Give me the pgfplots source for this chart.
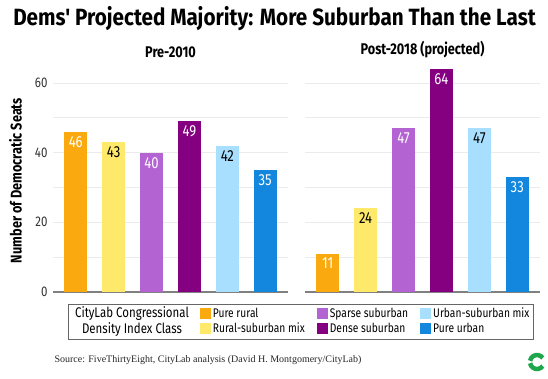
\documentclass[border=0pt]{standalone}
\usepackage{fontspec}
\setmainfont{Fira Sans}[FakeStretch=0.82]
\newfontfamily\titlefont{Fira Sans}[FakeStretch=0.88]
\newfontfamily\srcfont{Liberation Serif}
\usepackage{pgfplots}
\pgfplotsset{compat=1.18}
\definecolor{cRural}{HTML}{FAAA0E}
\definecolor{cRurSub}{HTML}{FEE96B}
\definecolor{cSparse}{HTML}{B464D2}
\definecolor{cDense}{HTML}{850080}
\definecolor{cUrbSub}{HTML}{A8DEFE}
\definecolor{cUrban}{HTML}{1287DD}
\definecolor{cLogo}{HTML}{1EA64B}
\pgfplotsset{
  panel/.style={
    scale only axis, width=235pt, height=223pt,
    anchor=south west,
    ymin=0, ymax=64, xmin=-0.6, xmax=5.6,
    axis line style={draw=none},
    xtick=\empty,
    ytick={20,40,60}, minor ytick={10,30,50},
    extra y ticks={0},
    extra y tick style={grid style={color=black!50, line width=1.6pt}},
    ymajorgrids, yminorgrids,
    grid style={color=black!8, line width=0.8pt},
    major tick length=0pt, minor tick length=0pt,
    /pgf/number format/assume math mode=true,
    yticklabel style={font=\fontsize{14}{14}\selectfont, text=black!80, xshift=-2pt},
    title style={font=\bfseries\fontsize{15.5}{15.5}\selectfont, yshift=2pt},
    ybar, bar width=23pt, bar shift=0pt,
    nodes near coords,
    nodes near coords style={anchor=north, font=\fontsize{16}{16}\selectfont, yshift=-1pt},
    legend image code/.code={\fill[##1] (0pt,-5.5pt) rectangle (11pt,5.5pt);},
  },
}
\begin{document}
\begin{tikzpicture}
\useasboundingbox (0pt,0pt) rectangle (548pt,378pt);
\node[font=\titlefont\bfseries\fontsize{23.5}{23.5}\selectfont] at (274.5pt,359pt) {Dems' Projected Majority: More Suburban Than the Last};

\begin{axis}[panel, at={(53pt,86pt)}, title={Pre-2010},
  ylabel={Number of Democratic Seats},
  ylabel style={font=\bfseries\fontsize{15.5}{15.5}\selectfont, at={(axis description cs:-0.16,0.5)}, anchor=center},
  legend columns=2, transpose legend,
  legend cell align=left,
  legend style={draw=none, fill=none, at={(axis description cs:0.62,-0.055)}, anchor=north west,
    font=\fontsize{12.5}{12.5}\selectfont, row sep=0pt, inner sep=1pt,
    /tikz/every even column/.append style={column sep=10pt}},
]
\addplot[fill=cRural, draw=none, nodes near coords style={text=white}] coordinates {(0,46)};
\addlegendentry{Pure rural}
\addplot[fill=cRurSub, draw=none, nodes near coords style={text=black}] coordinates {(1,43)};
\addlegendentry{Rural-suburban mix}
\addplot[fill=cSparse, draw=none, nodes near coords style={text=white}] coordinates {(2,40)};
\addlegendentry{Sparse suburban}
\addplot[fill=cDense, draw=none, nodes near coords style={text=white}] coordinates {(3,49)};
\addlegendentry{Dense suburban}
\addplot[fill=cUrbSub, draw=none, nodes near coords style={text=black}] coordinates {(4,42)};
\addlegendentry{Urban-suburban mix}
\addplot[fill=cUrban, draw=none, nodes near coords style={text=white}] coordinates {(5,35)};
\addlegendentry{Pure urban}
\end{axis}

\begin{axis}[panel, at={(305pt,86pt)}, title={Post-2018 (projected)}, yticklabels=\empty, extra y tick labels={}]
\addplot[fill=cRural, draw=none, nodes near coords style={text=white}] coordinates {(0,11)};
\addplot[fill=cRurSub, draw=none, nodes near coords style={text=black}] coordinates {(1,24)};
\addplot[fill=cSparse, draw=none, nodes near coords style={text=white}] coordinates {(2,47)};
\addplot[fill=cDense, draw=none, nodes near coords style={text=white}] coordinates {(3,64)};
\addplot[fill=cUrbSub, draw=none, nodes near coords style={text=black}] coordinates {(4,47)};
\addplot[fill=cUrban, draw=none, nodes near coords style={text=white}] coordinates {(5,33)};
\end{axis}

\draw[black!60, line width=0.8pt] (68pt,39pt) rectangle (533pt,74pt);
\node[align=center, font=\fontsize{14}{15.5}\selectfont] at (132pt,56.5pt) {CityLab Congressional\\Density Index Class};

\node[anchor=west, font=\srcfont\fontsize{10}{10}\selectfont, text=black!85] at (51pt,18pt) {Source: FiveThirtyEight, CityLab analysis (David H. Montgomery/CityLab)};

\draw[cLogo, line width=4.5pt] (537pt,16pt) ++(35:7pt) arc (35:170:7pt);
\draw[cLogo, line width=4.5pt] (537pt,16pt) ++(190:7pt) arc (190:325:7pt);
\end{tikzpicture}
\end{document}
